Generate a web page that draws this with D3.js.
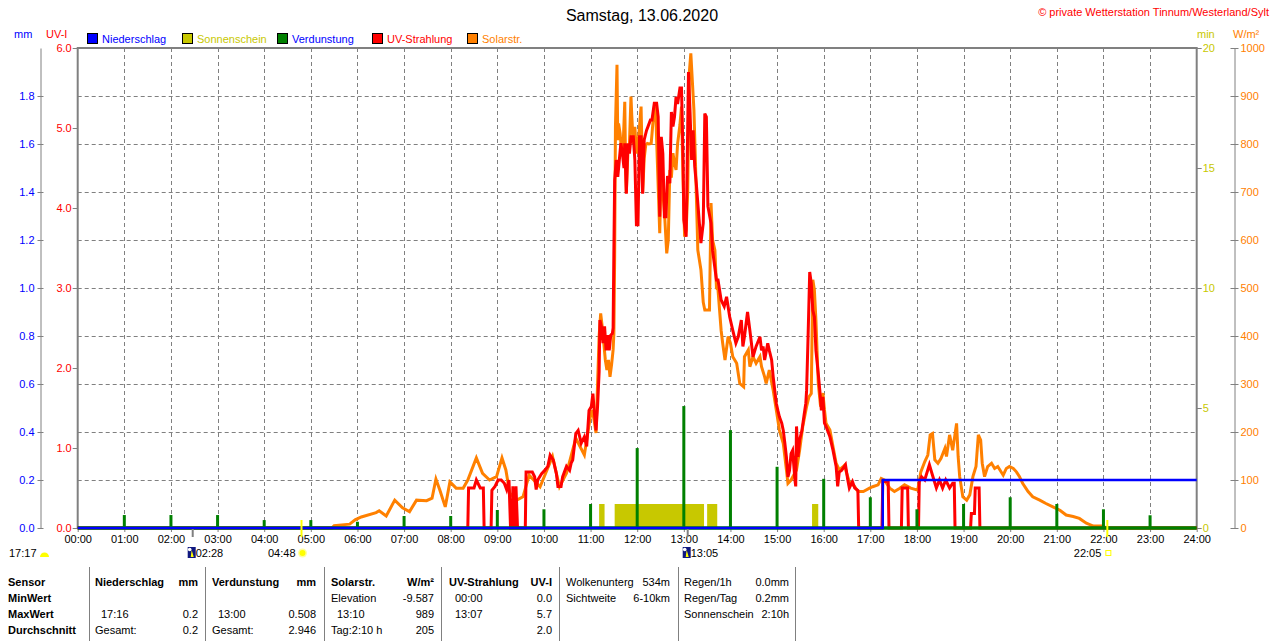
<!DOCTYPE html>
<html>
<head>
<meta charset="utf-8">
<script src="https://cdnjs.cloudflare.com/ajax/libs/d3/7.8.5/d3.min.js"></script>
<style>
body{margin:0;background:#fff;}
svg{display:block;font-family:"Liberation Sans",Arial,sans-serif;}
</style>
</head>
<body>
<svg id="chart" width="1280" height="641"></svg>
<script>
// ---- data ----
var title = "Samstag, 13.06.2020";
var hourLabels = ["00:00","01:00","02:00","03:00","04:00","05:00","06:00","07:00","08:00","09:00","10:00","11:00","12:00",
  "13:00","14:00","15:00","16:00","17:00","18:00","19:00","20:00","21:00","22:00","23:00","24:00"];
var mmTicks = [0.0,0.2,0.4,0.6,0.8,1.0,1.2,1.4,1.6,1.8];
var uvTicks = [0,1,2,3,4,5,6];
var minTicks = [0,5,10,15,20];
var wTicks = [0,100,200,300,400,500,600,700,800,900,1000];

var legendNames = ["Niederschlag","Sonnenschein","Verdunstung","UV-Strahlung","Solarstr."];
var legendFill = ["#0000ff","#c8c800","#008000","#ff0000","#ff8000"];
var legendText = ["#0000ff","#c8c800","#0000ff","#ff0000","#ff8000"];

// solar radiation W/m2
var solarRadiation = [["00:00",0],["05:27",0],["05:30",5],["05:50",8],["05:57",17],["06:05",23],["06:24",32],["06:28",36],["06:37",25],
  ["06:48",58],["06:58",42],["07:07",34],["07:16",58],["07:29",57],["07:36",62],["07:41",102],["07:46",79],["07:53",44],["07:59",96],
  ["08:07",83],["08:16",83],["08:22",100],["08:33",146],["08:41",114],["08:50",100],["08:59",107],["09:06",146],["09:11",121],["09:16",73],
  ["09:25",58],["09:33",65],["09:41",110],["09:55",86],["10:05",125],["10:11",149],["10:20",86],["10:29",114],["10:41",187],["10:52",152],
  ["11:01",246],["11:04",230],["11:07",198],["11:09",300],["11:11",400],["11:13",447],["11:15",419],["11:17",385],["11:19",350],["11:21",329],
  ["11:23",350],["11:25",315],["11:27",340],["11:29",371],["11:30",406],["11:31",565],["11:32",836],["11:34",965],["11:35",808],["11:36",843],
  ["11:38",822],["11:40",781],["11:42",800],["11:44",888],["11:45",760],["11:46",698],["11:48",781],["11:50",800],["11:52",899],["11:53",860],
  ["11:55",800],["11:57",836],["11:59",780],["12:01",800],["12:03",836],["12:05",878],["12:06",800],["12:07",698],["12:09",770],["12:11",798],
  ["12:13",801],["12:15",800],["12:18",801],["12:20",840],["12:22",878],["12:24",860],["12:26",760],["12:29",614],["12:31",760],["12:33",698],
  ["12:35",660],["12:38",572],["12:40",600],["12:42",746],["12:44",730],["12:46",781],["12:48",760],["12:50",746],["12:52",801],["12:55",840],
  ["12:57",878],["12:59",725],["13:01",607],["13:03",620],["13:05",700],["13:07",947],["13:09",989],["13:11",930],["13:13",871],["13:15",760],
  ["13:18",579],["13:22",538],["13:25",470],["13:27",454],["13:33",454],["13:35",677],["13:37",600],["13:40",579],["13:42",500],["13:44",496],
  ["13:46",454],["13:48",412],["13:50",385],["13:53",350],["13:57",399],["14:00",385],["14:03",357],["14:08",343],["14:12",301],["14:17",294],
  ["14:18",357],["14:23",371],["14:25",336],["14:29",357],["14:33",343],["14:38",357],["14:40",336],["14:44",315],["14:46",301],["14:50",329],
  ["14:55",287],["14:59",246],["15:03",204],["15:08",176],["15:12",121],["15:14",93],["15:18",100],["15:25",121],["15:29",162],["15:33",211],
  ["15:38",253],["15:41",273],["15:44",280],["15:46",517],["15:48",496],["15:50",433],["15:53",301],["15:56",253],["15:59",281],["16:01",246],
  ["16:03",218],["16:08",204],["16:12",169],["16:16",135],["16:20",121],["16:25",128],["16:27",131],["16:29",117],["16:33",96],["16:40",86],
  ["16:44",76],["16:51",76],["16:59",83],["17:03",86],["17:10",90],["17:14",103],["17:18",100],["17:25",83],["17:31",76],["17:38",83],
  ["17:44",90],["17:52",83],["18:01",79],["18:05",117],["18:10",138],["18:14",152],["18:17",194],["18:20",197],["18:23",142],["18:27",135],
  ["18:31",145],["18:36",166],["18:38",149],["18:42",194],["18:46",162],["18:51",218],["18:53",149],["18:55",107],["18:59",65],["19:04",58],
  ["19:08",69],["19:12",107],["19:16",128],["19:19",194],["19:22",183],["19:24",135],["19:27",107],["19:31",128],["19:36",135],["19:40",124],
  ["19:44",128],["19:51",110],["19:55",124],["19:59",128],["20:04",124],["20:08",117],["20:12",107],["20:16",93],["20:23",76],["20:29",65],
  ["20:38",58],["20:46",51],["20:55",44],["21:04",37],["21:12",27],["21:21",24],["21:29",20],["21:38",10],["21:47",4],["21:59",4],
  ["22:04",0],["24:00",0]];

// UV index
var uvIndex = [["00:00",0],["08:22",0],["08:23",0.50],["08:30",0.50],["08:33",0.60],["08:38",0.50],["08:42",0.50],["08:43",0],
  ["08:52",0],["08:53",0.47],["08:57",0.52],["09:01",0.60],["09:05",0.60],["09:09",0.56],["09:12",0.48],["09:15",0.60],["09:17",0],
  ["09:19",0],["09:20",0.52],["09:22",0],["09:23",0],["09:24",0.52],["09:26",0],["09:36",0],
  ["09:37",0.70],["09:45",0.70],["09:48",0.64],["09:50",0.48],["09:52",0.60],["09:57",0.68],["10:01",0.72],["10:05",0.77],["10:08",0.91],
  ["10:12",0.85],["10:16",0.68],["10:18",0.52],["10:22",0.52],["10:24",0.64],["10:29",0.77],["10:33",0.72],["10:35",0.81],["10:37",0.85],
  ["10:41",1.18],["10:44",1.22],["10:48",1.06],["10:52",1.14],["10:55",1.02],["10:58",1.47],["11:01",1.52],["11:03",1.68],["11:05",1.43],
  ["11:07",1.22],["11:09",1.52],["11:11",1.95],["11:12",2.60],["11:14",2.52],["11:16",2.31],["11:18",2.52],["11:20",2.22],["11:22",2.41],
  ["11:24",2.22],["11:26",2.41],["11:28",2.43],["11:29",2.50],["11:30",3.47],["11:31",4.35],["11:33",4.60],["11:35",4.39],["11:37",4.60],
  ["11:39",4.81],["11:41",4.68],["11:43",4.50],["11:44",4.81],["11:46",4.18],["11:48",4.81],["11:50",4.68],["11:52",4.89],["11:55",4.89],
  ["11:57",4.60],["11:59",3.79],["12:01",3.79],["12:03",4.89],["12:05",4.89],["12:07",4.18],["12:09",4.85],["12:12",4.97],["12:14",5.02],
  ["12:17",5.10],["12:19",5.10],["12:22",5.31],["12:25",5.31],["12:27",5.14],["12:29",3.89],["12:31",4.89],["12:33",4.68],["12:35",3.89],
  ["12:37",3.89],["12:39",4.40],["12:42",4.31],["12:44",5.20],["12:46",5.02],["12:48",5.14],["12:50",5.39],["12:52",5.30],["12:55",5.50],
  ["12:57",5.50],["12:59",4.64],["13:00",3.85],["13:03",3.64],["13:06",5.70],["13:08",5.20],["13:10",4.60],["13:12",4.97],["13:14",4.52],
  ["13:16",4.31],["13:20",3.81],["13:22",3.56],["13:25",3.81],["13:27",5.18],["13:29",5.14],["13:31",4.02],["13:35",3.81],["13:37",3.47],
  ["13:42",3.10],["13:44",3.10],["13:48",2.85],["13:52",2.77],["13:55",2.89],["13:59",2.64],["14:03",2.47],["14:07",2.31],["14:10",2.39],
  ["14:14",2.60],["14:16",2.27],["14:18",2.39],["14:22",2.70],["14:25",2.47],["14:27",2.31],["14:29",2.14],["14:33",2.27],["14:38",2.39],
  ["14:40",2.22],["14:42",2.27],["14:44",2.10],["14:48",2.31],["14:50",2.22],["14:53",2.10],["14:55",1.89],["14:57",1.72],["14:59",1.56],
  ["15:01",1.47],["15:03",1.39],["15:06",1.31],["15:08",1.22],["15:10",1.06],["15:12",0.89],["15:14",0.64],["15:16",0.72],["15:18",0.93],
  ["15:20",0.97],["15:23",0.60],["15:24",0.52],["15:25",1.27],["15:27",0.89],["15:29",1.10],["15:32",1.22],["15:35",1.43],["15:37",1.56],
  ["15:38",1.72],["15:40",2.43],["15:42",3.20],["15:44",3.06],["15:46",2.72],["15:48",2.64],["15:50",2.22],["15:53",1.93],["15:55",1.72],
  ["15:57",1.47],["15:59",1.64],["16:01",1.31],["16:03",1.27],["16:08",1.14],["16:12",0.97],["16:16",0.77],["16:18",0.52],["16:20",0.70],
  ["16:23",0.72],["16:28",0.79],["16:31",0.60],["16:33",0.50],["16:37",0.58],["16:40",0.50],["16:44",0.47],["16:45",0],
  ["17:15",0],["17:16",0.58],["17:23",0.58],["17:24",0],["17:40",0],["17:41",0.50],["17:48",0.50],["17:49",0],["18:02",0],["18:03",0.58],
  ["18:06",0.64],["18:10",0.60],["18:16",0.79],["18:20",0.66],["18:25",0.50],["18:29",0.60],["18:33",0.50],["18:37",0.60],["18:42",0.50],
  ["18:46",0.56],["18:48",0.56],["18:49",0],["19:09",0],["19:10",0.18],["19:14",0.18],["19:15",0.50],["19:20",0.50],["19:21",0],["24:00",0]];

// evaporation mm per hour
var evapHours = ["01:00","02:00","03:00","04:00","05:00","06:00","07:00","08:00","09:00","10:00","11:00","12:00",
  "13:00","14:00","15:00","16:00","17:00","18:00","19:00","20:00","21:00","22:00","23:00"];
var evapMm = [0.054,0.054,0.054,0.033,0.033,0.026,0.050,0.050,0.075,0.078,0.100,0.333,
  0.508,0.408,0.255,0.205,0.128,0.078,0.100,0.128,0.100,0.078,0.053];

// precipitation (cumulative mm)
var rainSteps = [["00:00",0],["17:16",0.2],["24:00",0.2]];

// sunshine periods (1 min per minute)
var sunshineSpans = [["11:11","11:18"],["11:31","13:26"],["13:30","13:43"],["15:45","15:53"]];

var moonTimes = ["02:28","13:05"];
var sunTimes = ["04:48","22:05"];
var dayLength = "17:17";

// table below the chart
var rowLabels = ["Sensor","MinWert","MaxWert","Durchschnitt"];
var tableCols = [
  {x:95, r:198, head:"Niederschlag", unit:"mm", cells:[["",""],["17:16","0.2"],["Gesamt:","0.2"]]},
  {x:212, r:316, head:"Verdunstung", unit:"mm", cells:[["",""],["13:00","0.508"],["Gesamt:","2.946"]]},
  {x:331, r:434, head:"Solarstr.", unit:"W/m²", cells:[["Elevation","-9.587"],["13:10","989"],["Tag:2:10 h","205"]]},
  {x:449, r:552, head:"UV-Strahlung", unit:"UV-I", cells:[["00:00","0.0"],["13:07","5.7"],["","2.0"]]}
];
var extraA = [["Wolkenunterg","534m"],["Sichtweite","6-10km"]];
var extraB = [["Regen/1h","0.0mm"],["Regen/Tag","0.2mm"],["Sonnenschein","2:10h"]];
var tableSeps = [89,205,324,441,559,678,795];

// ---- drawing ----
function toMin(s){ var p = s.split(':'); return (+p[0])*60 + (+p[1]); }

var svg = d3.select('#chart');
var gray = '#808080';
var plotTop = 48, plotBottom = 528;

var x = d3.scaleLinear().domain([0,1440]).range([77.7,1196.7]);
var yUV = d3.scaleLinear().domain([0,6]).range([plotBottom,plotTop]);
var yW = d3.scaleLinear().domain([0,1000]).range([plotBottom,plotTop]);
var yMM = d3.scaleLinear().domain([0,2]).range([plotBottom,plotTop]);
var yMin = d3.scaleLinear().domain([0,20]).range([plotBottom,plotTop]);

// title and copyright
svg.append('text').attr('x',642).attr('y',21).attr('text-anchor','middle')
  .style('font-size','16px').style('fill','#000').text(title);
svg.append('text').attr('x',1269).attr('y',16).attr('text-anchor','end')
  .style('font-size','11px').style('fill','#ff0000').text('© private Wetterstation Tinnum/Westerland/Sylt');

// unit labels
svg.append('text').attr('x',14).attr('y',38).style('font-size','11px').style('fill','#0000ff').text('mm');
svg.append('text').attr('x',46).attr('y',38).style('font-size','11px').style('fill','#ff0000').text('UV-I');
svg.append('text').attr('x',1197).attr('y',38).style('font-size','11px').style('fill','#c8c800').text('min');
svg.append('text').attr('x',1233).attr('y',38).style('font-size','11px').style('fill','#ff8000').text('W/m²');

// legend
var legend = svg.selectAll('.legend').data(legendNames).enter().append('g')
  .attr('class','legend')
  .attr('transform',function(d,i){ return 'translate('+(87+i*95)+',33)'; });
legend.append('rect').attr('x',0.5).attr('y',0.5).attr('width',10).attr('height',10)
  .style('fill',function(d,i){ return legendFill[i]; }).style('stroke','#000');
legend.append('text').attr('x',15).attr('y',9.5).style('font-size','11px')
  .style('fill',function(d,i){ return legendText[i]; }).text(function(d){ return d; });

// grid
var grid = svg.append('g').attr('class','grid');
grid.selectAll('.hgrid').data(wTicks.slice(1,-1)).enter().append('line')
  .attr('x1',x(0)).attr('x2',x(1440))
  .attr('y1',function(d){ return yW(d)+0.5; }).attr('y2',function(d){ return yW(d)+0.5; })
  .style('stroke',gray).style('stroke-dasharray','4,3');
grid.selectAll('.vgrid').data(hourLabels.slice(1,-1)).enter().append('line')
  .attr('x1',function(d){ return Math.round(x(toMin(d)))+0.5; })
  .attr('x2',function(d){ return Math.round(x(toMin(d)))+0.5; })
  .attr('y1',plotTop).attr('y2',plotBottom)
  .style('stroke',gray).style('stroke-dasharray','4,3');

// side axes
var mmAxis = svg.append('g').attr('transform','translate(40.5,0)')
  .call(d3.axisLeft(yMM).tickValues(mmTicks).tickFormat(d3.format('.1f')).tickSize(3).tickPadding(3).tickSizeOuter(0));
var uvAxis = svg.append('g').attr('transform','translate(77.7,0)')
  .call(d3.axisLeft(yUV).tickValues(uvTicks).tickFormat(d3.format('.1f')).tickSize(5).tickPadding(1).tickSizeOuter(0));
var minAxis = svg.append('g').attr('transform','translate(1196.7,0)')
  .call(d3.axisRight(yMin).tickValues(minTicks).tickFormat(d3.format('d')).tickSize(5).tickPadding(1).tickSizeOuter(0));
var wAxis = svg.append('g').attr('transform','translate(1234.5,0)')
  .call(d3.axisRight(yW).tickValues(wTicks).tickFormat(d3.format('d')).tickSize(4).tickPadding(2).tickSizeOuter(0));
mmAxis.selectAll('.tick line').attr('x1',3);
wAxis.selectAll('.tick line').attr('x1',-4);

[mmAxis,uvAxis,minAxis,wAxis].forEach(function(a){
  a.selectAll('path.domain').style('stroke',gray);
  a.selectAll('.tick line').style('stroke',gray);
  a.selectAll('.tick text').style('font-size','11px').style('font-family','"Liberation Sans",Arial,sans-serif');
});
uvAxis.select('path.domain').remove();
minAxis.select('path.domain').remove();
mmAxis.selectAll('.tick text').style('fill','#0000ff');
uvAxis.selectAll('.tick text').style('fill','#ff0000');
minAxis.selectAll('.tick text').style('fill','#c8c800');
wAxis.selectAll('.tick text').style('fill','#ff8000');

// x axis
var xAxis = svg.append('g').attr('transform','translate(0,'+plotBottom+')')
  .call(d3.axisBottom(x).tickValues(hourLabels.map(toMin))
    .tickFormat(function(d,i){ return hourLabels[i]; }).tickSize(4).tickPadding(3).tickSizeOuter(0));
xAxis.select('path.domain').remove();
xAxis.selectAll('.tick line').style('stroke',gray);
xAxis.selectAll('.tick text').style('font-size','11px').style('fill','#000')
  .style('font-family','"Liberation Sans",Arial,sans-serif');

// frame
svg.append('rect').attr('x',x(0)).attr('y',plotTop).attr('width',x(1440)-x(0)).attr('height',plotBottom-plotTop)
  .style('fill','none').style('stroke',gray).style('stroke-width',2);

// sunshine bars
svg.selectAll('.sun').data(sunshineSpans).enter().append('rect')
  .attr('x',function(d){ return x(toMin(d[0])); })
  .attr('width',function(d){ return x(toMin(d[1]))-x(toMin(d[0])); })
  .attr('y',yMin(1)).attr('height',yMin(0)-yMin(1))
  .style('fill','#c8c800');

// solar radiation and UV lines
var solarLine = d3.line().x(function(d){ return x(toMin(d[0])); }).y(function(d){ return yW(d[1]); });
var uvLine = d3.line().x(function(d){ return x(toMin(d[0])); }).y(function(d){ return yUV(d[1]); });
svg.append('path').datum(solarRadiation).attr('d',solarLine)
  .style('fill','none').style('stroke','#ff8000').style('stroke-width',3).style('stroke-linejoin','miter');
svg.append('path').datum(uvIndex).attr('d',uvLine)
  .style('fill','none').style('stroke','#ff0000').style('stroke-width',3).style('stroke-linejoin','miter');

// evaporation (zero line covers the other series' zero values)
svg.append('line').attr('x1',x(0)).attr('x2',x(1440)).attr('y1',plotBottom).attr('y2',plotBottom)
  .style('stroke','#008000').style('stroke-width',3.4);
svg.selectAll('.evap').data(evapHours).enter().append('rect')
  .attr('x',function(d){ return x(toMin(d))-1.5; }).attr('width',3)
  .attr('y',function(d,i){ return yMM(evapMm[i]); })
  .attr('height',function(d,i){ return plotBottom-yMM(evapMm[i]); })
  .style('fill','#008000');

// precipitation
var rainLine = d3.line().curve(d3.curveStepAfter)
  .x(function(d){ return x(toMin(d[0])); }).y(function(d){ return yMM(d[1]); });
svg.append('path').datum(rainSteps).attr('d',rainLine)
  .style('fill','none').style('stroke','#0000ff').style('stroke-width',2.5);

// moon / sun markers below the axis
var marks = svg.append('g').style('font-size','11px');
moonTimes.forEach(function(t){
  var mx = x(toMin(t));
  marks.append('line').attr('x1',mx).attr('x2',mx).attr('y1',plotBottom+1).attr('y2',537)
    .style('stroke',gray).style('stroke-width',2);
  marks.append('rect').attr('x',mx-5).attr('y',547).attr('width',8).attr('height',11).style('fill','#101880');
  marks.append('circle').attr('cx',mx-3).attr('cy',549.5).attr('r',1.8).style('fill','#ffffff');
  marks.append('path').attr('d','M'+(mx-2)+',557 L'+(mx-1)+',550 L'+(mx+1)+',557 Z').style('fill','#ffff00');
  marks.append('text').attr('x',mx+3).attr('y',557).style('fill','#000').text(t);
});
sunTimes.forEach(function(t,i){
  var sx = x(toMin(t));
  marks.append('line').attr('x1',sx).attr('x2',sx).attr('y1',520).attr('y2',537)
    .style('stroke','#ffff00').style('stroke-width',2);
  marks.append('text').attr('x',sx-6).attr('y',557).attr('text-anchor','end').style('fill','#000').text(t);
  if (i == 0) {
    marks.append('circle').attr('cx',sx+1).attr('cy',553).attr('r',4.5).style('fill','#ffffa0');
    marks.append('circle').attr('cx',sx+1).attr('cy',553).attr('r',3).style('fill','#ffff00');
  } else {
    marks.append('rect').attr('x',sx-1.5).attr('y',550.5).attr('width',5).attr('height',5)
      .style('fill','none').style('stroke','#ffff00');
  }
});
marks.append('text').attr('x',9).attr('y',557).style('fill','#000').text(dayLength);
marks.append('path').attr('d','M40,557 A4.5,4.5 0 0 1 49,557 Z').style('fill','#ffff00');

// table
var tbl = svg.append('g').style('font-size','11px').style('fill','#000');
var rowY = [586,602,618,634];
rowLabels.forEach(function(r,i){
  tbl.append('text').attr('x',8).attr('y',rowY[i]).style('font-weight','bold').text(r);
});
tableCols.forEach(function(c){
  tbl.append('text').attr('x',c.x).attr('y',rowY[0]).style('font-weight','bold').text(c.head);
  tbl.append('text').attr('x',c.r).attr('y',rowY[0]).attr('text-anchor','end').style('font-weight','bold').text(c.unit);
  c.cells.forEach(function(cell,j){
    var indent = /^\d\d:\d\d$/.test(cell[0]) ? 6 : 0;
    tbl.append('text').attr('x',c.x+indent).attr('y',rowY[j+1]).text(cell[0]);
    tbl.append('text').attr('x',c.r).attr('y',rowY[j+1]).attr('text-anchor','end').text(cell[1]);
  });
});
extraA.forEach(function(e,j){
  tbl.append('text').attr('x',566).attr('y',rowY[j]).text(e[0]);
  tbl.append('text').attr('x',670).attr('y',rowY[j]).attr('text-anchor','end').text(e[1]);
});
extraB.forEach(function(e,j){
  tbl.append('text').attr('x',684).attr('y',rowY[j]).text(e[0]);
  tbl.append('text').attr('x',789).attr('y',rowY[j]).attr('text-anchor','end').text(e[1]);
});
tbl.selectAll('.sep').data(tableSeps).enter().append('line')
  .attr('x1',function(d){ return d+0.5; }).attr('x2',function(d){ return d+0.5; })
  .attr('y1',567).attr('y2',641).style('stroke',gray);
</script>
</body>
</html>
